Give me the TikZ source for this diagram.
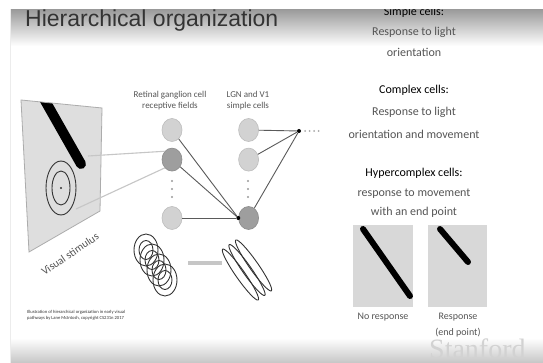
\documentclass[tikz,border=0pt]{standalone}
\usepackage{fontspec}
\setmainfont{Carlito}
\newfontfamily\titlefont{Liberation Sans}
\newfontfamily\markfont{Liberation Serif}
\usetikzlibrary{shapes.geometric, positioning}
\usepackage{xcolor}
\definecolor{inkgray}{HTML}{333333}
\definecolor{textgray}{HTML}{555555}
\definecolor{panelfill}{HTML}{DEDEDE}
\definecolor{sqfill}{HTML}{D8D8D8}
\definecolor{cellfill}{HTML}{D2D2D2}
\definecolor{cellstr}{HTML}{BDBDBD}
\definecolor{onfill}{HTML}{9E9E9E}
\definecolor{onstr}{HTML}{8C8C8C}
\definecolor{wirecol}{HTML}{5A5A5A}
\definecolor{feedcol}{HTML}{C6C6C6}
\tikzset{
  cell/.style    ={ellipse, draw=cellstr, fill=cellfill, line width=0.6pt,
                   minimum width=20pt, minimum height=23pt, inner sep=0pt},
  oncell/.style  ={cell, draw=onstr, fill=onfill},
  junction/.style={circle, fill=black, inner sep=0pt, minimum size=4pt},
  vdot/.style    ={circle, fill=gray!80, inner sep=0pt, minimum size=2.2pt},
  wire/.style    ={draw=wirecol, line width=0.9pt},
  feed/.style    ={draw=feedcol, line width=1.1pt},
  field/.style   ={draw=inkgray, line width=0.9pt},
  head/.style    ={font=\fontsize{9}{11}\selectfont, text=textgray, align=center},
  celltype/.style={font=\fontsize{12}{15}\selectfont, text=black, anchor=base},
  celldesc/.style={font=\fontsize{12}{15}\selectfont, text=textgray, anchor=base},
  small/.style   ={font=\fontsize{10}{16}\selectfont, text=textgray, align=center},
}

\begin{document}
\begin{tikzpicture}[x=1pt, y=-1pt]
  \useasboundingbox (0,0) rectangle (543,363);
  \fill[white] (0,0) rectangle (543,363);
  % shaded bands of the slide frame
  \shade[top color=gray!80, bottom color=white] (10,9) rectangle (543,46);
  \shade[top color=white, bottom color=gray!45] (10,338) rectangle (543,363);
  \draw[gray!15] (10,9) -- (10,363);

  \node[anchor=base west, inner sep=0pt, text=inkgray,
        font=\titlefont\fontsize{23}{26}\selectfont] (title) at (25,27) {Hierarchical organization};

  % visual stimulus
  \fill[panelfill] (21,100) -- (102,108) -- (100,211) -- (29,252) -- cycle;
  \begin{scope}
    \clip (21,100) -- (102,108) -- (100,211) -- (29,252) -- cycle;
    \draw[line width=10pt, line cap=round] (39,90) -- (81,164);
  \end{scope}
  \draw[gray!65, line width=0.8pt] (21,100) -- (102,108) -- (100,211) -- (29,252) -- cycle;
  \draw[field] (61,188) ellipse [x radius=15, y radius=27];
  \draw[field] (61,188) ellipse [x radius=9, y radius=17];
  \fill[inkgray] (61,188) circle (1.2);
  \node[rotate=34, font=\fontsize{11}{13}\selectfont, text=textgray] (stimlabel) at (70,254) {Visual stimulus};
  \coordinate (barend) at (88,156);
  \coordinate (ringedge) at (76,209);

  % retinal ganglion cells and LGN / V1 simple cells
  \node[head] (rgchead) at (170,100.5) {Retinal ganglion cell\\receptive fields};
  \node[head] (lgnhead) at (248,100.5) {LGN and V1\\simple cells};

  \node[cell] (r1) at (172,130) {};
  \node[oncell, below=6pt of r1] (r2) {};
  \node[cell] (r3) at (172,218) {};
  \node[cell, right=56pt of r1] (s1) {};
  \node[cell, right=56pt of r2] (s2) {};
  \node[oncell, right=56pt of r3] (s3) {};
  \foreach \y in {181,189,197} {
    \node[vdot] at (172,\y) {};
    \node[vdot] at (248,\y) {};
  }

  \draw[feed] (barend) -- (r2.north west);
  \draw[feed] (ringedge) -- (r2.south west);

  \node[junction] (conv) at (s3.west) {};
  \node[junction] (hub) at (299,131) {};
  \draw[wire] (r1) -- (conv);
  \draw[wire] (r2) -- (conv);
  \draw[wire] (r3) -- (conv);
  \draw[wire] (s1) -- (hub);
  \draw[wire] (s2) -- (hub);
  \draw[wire] (s3) -- (hub);
  \foreach \x in {305,309.5,314,318.5}
    \fill[gray!70] (\x,131) circle (1);

  % centre-surround fields pooled into an elongated field
  \foreach \cx/\cy in {146/250, 152/260, 159/270, 165/280} {
    \draw[field] (\cx,\cy) ellipse [x radius=12, y radius=16];
    \draw[field] (\cx,\cy) ellipse [x radius=7, y radius=9.5];
  }
  \coordinate (poolA) at (188,263);
  \coordinate (poolB) at (222,263);
  \draw[feedcol, line width=4pt] (poolA) -- (poolB);
  \begin{scope}[shift={(247,270)}, rotate=-55]
    \foreach \o in {-8,0,8}
      \draw[field] (0,\o) ellipse [x radius=31, y radius=4.5];
  \end{scope}

  \node[anchor=north west, align=left, text=inkgray, inner sep=0pt,
        font=\fontsize{4.6}{6}\selectfont] (credit) at (27,310)
       {Illustration of hierarchical organization in early visual\\pathways by Lane McIntosh, copyright CS231n 2017};

  % cell types
  \node[celltype] (simple) at (414,16) {Simple cells:};
  \node[celldesc] at (414,36) {Response to light};
  \node[celldesc] at (414,57) {orientation};
  \node[celltype] (complex) at (414,94) {Complex cells:};
  \node[celldesc] at (414,116) {Response to light};
  \node[celldesc] at (414,139) {orientation and movement};
  \node[celltype] (hyper) at (414,177) {Hypercomplex cells:};
  \node[celldesc] at (414,197) {response to movement};
  \node[celldesc] at (414,216) {with an end point};

  % end-stopped responses
  \fill[sqfill] (353,225) rectangle (413,307);
  \draw[line width=6pt, line cap=round] (363,229) -- (410,296);
  \fill[sqfill] (428,225) rectangle (487,307);
  \draw[line width=6pt, line cap=round] (440,229) -- (468,262);
  \node[small] (noresp) at (383,317) {No response};
  \node[small] (resp) at (458,325) {Response\\(end point)};

  \node[anchor=base west, inner sep=0pt, text=gray!35,
        font=\markfont\fontsize{28}{30}\selectfont] (mark) at (429,358) {Stanford};

  \fill[white] (0,0) rectangle (543,9);
\end{tikzpicture}
\end{document}
